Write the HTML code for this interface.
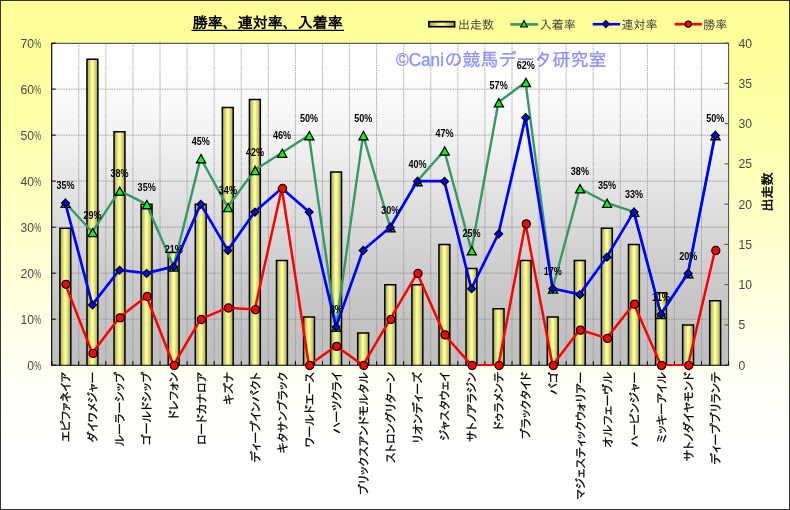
<!DOCTYPE html>
<html lang="ja"><head><meta charset="utf-8"><title>勝率、連対率、入着率</title>
<style>html,body{margin:0;padding:0;background:#fff;overflow:hidden;}svg{display:block;will-change:transform;}text{font-family:"Liberation Sans", "IPAGothic", "Noto Sans CJK JP", sans-serif;}.cl{font-family:"Liberation Sans", "IPAPGothic", "IPAGothic", "Noto Sans CJK JP", sans-serif;}</style>
</head><body>
<svg width="790" height="510" viewBox="0 0 790 510">
<defs>
<linearGradient id="bg" x1="0" y1="0" x2="0" y2="1"><stop offset="0.0000" stop-color="#ffff99"/><stop offset="0.0417" stop-color="#ffff9a"/><stop offset="0.0833" stop-color="#ffff9b"/><stop offset="0.1250" stop-color="#ffff9e"/><stop offset="0.1667" stop-color="#ffffa2"/><stop offset="0.2083" stop-color="#ffffa6"/><stop offset="0.2500" stop-color="#ffffab"/><stop offset="0.2917" stop-color="#ffffb1"/><stop offset="0.3333" stop-color="#ffffb7"/><stop offset="0.3750" stop-color="#ffffbd"/><stop offset="0.4167" stop-color="#ffffc4"/><stop offset="0.4583" stop-color="#ffffcb"/><stop offset="0.5000" stop-color="#ffffd2"/><stop offset="0.5417" stop-color="#ffffd9"/><stop offset="0.5833" stop-color="#ffffdf"/><stop offset="0.6250" stop-color="#ffffe5"/><stop offset="0.6667" stop-color="#ffffeb"/><stop offset="0.7083" stop-color="#fffff0"/><stop offset="0.7500" stop-color="#fffff5"/><stop offset="0.7917" stop-color="#fffff9"/><stop offset="0.8333" stop-color="#fffffc"/><stop offset="0.8750" stop-color="#fffffe"/><stop offset="0.9167" stop-color="#ffffff"/><stop offset="0.9583" stop-color="#ffffff"/><stop offset="1.0000" stop-color="#ffffff"/></linearGradient>
<linearGradient id="pg" x1="0" y1="0" x2="0" y2="1"><stop offset="0.0000" stop-color="#ffffff"/><stop offset="0.0417" stop-color="#ffffff"/><stop offset="0.0833" stop-color="#fefefe"/><stop offset="0.1250" stop-color="#fcfcfc"/><stop offset="0.1667" stop-color="#fafafa"/><stop offset="0.2083" stop-color="#f8f8f8"/><stop offset="0.2500" stop-color="#f5f5f5"/><stop offset="0.2917" stop-color="#f2f2f2"/><stop offset="0.3333" stop-color="#efefef"/><stop offset="0.3750" stop-color="#ebebeb"/><stop offset="0.4167" stop-color="#e7e7e7"/><stop offset="0.4583" stop-color="#e3e3e3"/><stop offset="0.5000" stop-color="#e0e0e0"/><stop offset="0.5417" stop-color="#dcdcdc"/><stop offset="0.5833" stop-color="#d8d8d8"/><stop offset="0.6250" stop-color="#d4d4d4"/><stop offset="0.6667" stop-color="#d0d0d0"/><stop offset="0.7083" stop-color="#cdcdcd"/><stop offset="0.7500" stop-color="#cacaca"/><stop offset="0.7917" stop-color="#c7c7c7"/><stop offset="0.8333" stop-color="#c5c5c5"/><stop offset="0.8750" stop-color="#c3c3c3"/><stop offset="0.9167" stop-color="#c1c1c1"/><stop offset="0.9583" stop-color="#c0c0c0"/><stop offset="1.0000" stop-color="#c0c0c0"/></linearGradient>
<linearGradient id="bar" x1="0" y1="0" x2="1" y2="0"><stop offset="0" stop-color="#9e9e50"/><stop offset="0.44" stop-color="#fcfc97"/><stop offset="0.56" stop-color="#fcfc97"/><stop offset="1" stop-color="#9e9e50"/></linearGradient>
<clipPath id="pc"><rect x="51.7" y="43.1" width="676.9" height="323.0"/></clipPath>
</defs>
<rect x="0" y="0" width="790" height="510" fill="url(#bg)"/>
<rect x="0.5" y="0.5" width="789" height="509" fill="none" stroke="#333" stroke-width="1"/>
<rect x="51.7" y="43.1" width="676.9" height="322.1" fill="url(#pg)"/>
<text y="65.6" font-size="18" fill="#9090ff" stroke="#9090ff" stroke-width="0.3"><tspan x="396" textLength="48" lengthAdjust="spacingAndGlyphs">©Cani</tspan><tspan x="444.5" textLength="162">の競馬データ研究室</tspan></text>
<path d="M51.7 319.19H728.6M51.7 273.17H728.6M51.7 227.16H728.6M51.7 181.14H728.6M51.7 135.13H728.6M51.7 89.11H728.6M78.78 43.1V365.2M105.85 43.1V365.2M132.93 43.1V365.2M160.00 43.1V365.2M187.08 43.1V365.2M214.16 43.1V365.2M241.23 43.1V365.2M268.31 43.1V365.2M295.38 43.1V365.2M322.46 43.1V365.2M349.54 43.1V365.2M376.61 43.1V365.2M403.69 43.1V365.2M430.76 43.1V365.2M457.84 43.1V365.2M484.92 43.1V365.2M511.99 43.1V365.2M539.07 43.1V365.2M566.14 43.1V365.2M593.22 43.1V365.2M620.30 43.1V365.2M647.37 43.1V365.2M674.45 43.1V365.2M701.52 43.1V365.2" fill="none" stroke="#8a8a8a" stroke-width="1" stroke-dasharray="1.5 0.9" stroke-opacity="0.75"/>
<path d="M51.7 43.4H729.1" fill="none" stroke="#5c5c5c" stroke-width="1.1"/>
<path d="M59.89 365.2V228.31h10.9V365.2" fill="url(#bar)" stroke="#000" stroke-width="1.5"/>
<path d="M86.96 365.2V59.20h10.9V365.2" fill="url(#bar)" stroke="#000" stroke-width="1.5"/>
<path d="M114.04 365.2V131.68h10.9V365.2" fill="url(#bar)" stroke="#000" stroke-width="1.5"/>
<path d="M141.12 365.2V204.15h10.9V365.2" fill="url(#bar)" stroke="#000" stroke-width="1.5"/>
<path d="M168.19 365.2V252.47h10.9V365.2" fill="url(#bar)" stroke="#000" stroke-width="1.5"/>
<path d="M195.27 365.2V204.15h10.9V365.2" fill="url(#bar)" stroke="#000" stroke-width="1.5"/>
<path d="M222.34 365.2V107.52h10.9V365.2" fill="url(#bar)" stroke="#000" stroke-width="1.5"/>
<path d="M249.42 365.2V99.47h10.9V365.2" fill="url(#bar)" stroke="#000" stroke-width="1.5"/>
<path d="M276.50 365.2V260.52h10.9V365.2" fill="url(#bar)" stroke="#000" stroke-width="1.5"/>
<path d="M303.57 365.2V316.88h10.9V365.2" fill="url(#bar)" stroke="#000" stroke-width="1.5"/>
<path d="M330.65 365.2V171.94h10.9V365.2" fill="url(#bar)" stroke="#000" stroke-width="1.5"/>
<path d="M357.72 365.2V332.99h10.9V365.2" fill="url(#bar)" stroke="#000" stroke-width="1.5"/>
<path d="M384.80 365.2V284.68h10.9V365.2" fill="url(#bar)" stroke="#000" stroke-width="1.5"/>
<path d="M411.88 365.2V284.68h10.9V365.2" fill="url(#bar)" stroke="#000" stroke-width="1.5"/>
<path d="M438.95 365.2V244.41h10.9V365.2" fill="url(#bar)" stroke="#000" stroke-width="1.5"/>
<path d="M466.03 365.2V268.57h10.9V365.2" fill="url(#bar)" stroke="#000" stroke-width="1.5"/>
<path d="M493.10 365.2V308.83h10.9V365.2" fill="url(#bar)" stroke="#000" stroke-width="1.5"/>
<path d="M520.18 365.2V260.52h10.9V365.2" fill="url(#bar)" stroke="#000" stroke-width="1.5"/>
<path d="M547.26 365.2V316.88h10.9V365.2" fill="url(#bar)" stroke="#000" stroke-width="1.5"/>
<path d="M574.33 365.2V260.52h10.9V365.2" fill="url(#bar)" stroke="#000" stroke-width="1.5"/>
<path d="M601.41 365.2V228.31h10.9V365.2" fill="url(#bar)" stroke="#000" stroke-width="1.5"/>
<path d="M628.48 365.2V244.41h10.9V365.2" fill="url(#bar)" stroke="#000" stroke-width="1.5"/>
<path d="M655.56 365.2V292.73h10.9V365.2" fill="url(#bar)" stroke="#000" stroke-width="1.5"/>
<path d="M682.64 365.2V324.94h10.9V365.2" fill="url(#bar)" stroke="#000" stroke-width="1.5"/>
<path d="M709.71 365.2V300.78h10.9V365.2" fill="url(#bar)" stroke="#000" stroke-width="1.5"/>
<path d="M728.6 43.1V365.2M728.6 365.20h-4M728.6 324.94h-4M728.6 284.68h-4M728.6 244.41h-4M728.6 204.15h-4M728.6 163.89h-4M728.6 123.63h-4M728.6 83.36h-4M728.6 43.10h-4" fill="none" stroke="#4a4a4a" stroke-width="1"/>
<path d="M51.7 365.20h4M51.7 319.19h4M51.7 273.17h4M51.7 227.16h4M51.7 181.14h4M51.7 135.13h4M51.7 89.11h4M51.7 43.10h4M51.70 365.2v-4M78.78 365.2v-4M105.85 365.2v-4M132.93 365.2v-4M160.00 365.2v-4M187.08 365.2v-4M214.16 365.2v-4M241.23 365.2v-4M268.31 365.2v-4M295.38 365.2v-4M322.46 365.2v-4M349.54 365.2v-4M376.61 365.2v-4M403.69 365.2v-4M430.76 365.2v-4M457.84 365.2v-4M484.92 365.2v-4M511.99 365.2v-4M539.07 365.2v-4M566.14 365.2v-4M593.22 365.2v-4M620.30 365.2v-4M647.37 365.2v-4M674.45 365.2v-4M701.52 365.2v-4M728.60 365.2v-4" fill="none" stroke="#000" stroke-width="1"/>
<path d="M51.7 43.1V365.2H729.1" fill="none" stroke="#000" stroke-width="1.15"/>
<polyline points="65.24,202.80 92.31,232.00 119.39,190.66 146.47,204.15 173.54,266.60 200.62,158.14 227.69,207.03 254.77,169.99 281.85,152.83 308.92,135.13 336.00,326.85 363.07,135.13 390.15,227.16 417.23,181.14 444.30,150.47 471.38,250.16 498.45,102.26 525.53,82.04 552.61,288.51 579.68,188.22 606.76,202.80 633.83,211.82 660.91,314.07 687.99,273.17 715.06,135.13" fill="none" stroke="#339966" stroke-width="2.40" stroke-linejoin="round" stroke-linecap="round" clip-path="url(#pc)"/>
<path d="M65.64 199.20l4.55 8.2h-9.1z" fill="#00ff00" stroke="#000" stroke-width="1.3"/>
<path d="M92.71 228.40l4.55 8.2h-9.1z" fill="#00ff00" stroke="#000" stroke-width="1.3"/>
<path d="M119.79 187.06l4.55 8.2h-9.1z" fill="#00ff00" stroke="#000" stroke-width="1.3"/>
<path d="M146.87 200.55l4.55 8.2h-9.1z" fill="#00ff00" stroke="#000" stroke-width="1.3"/>
<path d="M173.94 263.00l4.55 8.2h-9.1z" fill="#00ff00" stroke="#000" stroke-width="1.3"/>
<path d="M201.02 154.54l4.55 8.2h-9.1z" fill="#00ff00" stroke="#000" stroke-width="1.3"/>
<path d="M228.09 203.43l4.55 8.2h-9.1z" fill="#00ff00" stroke="#000" stroke-width="1.3"/>
<path d="M255.17 166.39l4.55 8.2h-9.1z" fill="#00ff00" stroke="#000" stroke-width="1.3"/>
<path d="M282.25 149.23l4.55 8.2h-9.1z" fill="#00ff00" stroke="#000" stroke-width="1.3"/>
<path d="M309.32 131.53l4.55 8.2h-9.1z" fill="#00ff00" stroke="#000" stroke-width="1.3"/>
<path d="M336.40 323.25l4.55 8.2h-9.1z" fill="#00ff00" stroke="#000" stroke-width="1.3"/>
<path d="M363.47 131.53l4.55 8.2h-9.1z" fill="#00ff00" stroke="#000" stroke-width="1.3"/>
<path d="M390.55 223.56l4.55 8.2h-9.1z" fill="#00ff00" stroke="#000" stroke-width="1.3"/>
<path d="M417.63 177.54l4.55 8.2h-9.1z" fill="#00ff00" stroke="#000" stroke-width="1.3"/>
<path d="M444.70 146.87l4.55 8.2h-9.1z" fill="#00ff00" stroke="#000" stroke-width="1.3"/>
<path d="M471.78 246.56l4.55 8.2h-9.1z" fill="#00ff00" stroke="#000" stroke-width="1.3"/>
<path d="M498.85 98.66l4.55 8.2h-9.1z" fill="#00ff00" stroke="#000" stroke-width="1.3"/>
<path d="M525.93 78.44l4.55 8.2h-9.1z" fill="#00ff00" stroke="#000" stroke-width="1.3"/>
<path d="M553.01 284.91l4.55 8.2h-9.1z" fill="#00ff00" stroke="#000" stroke-width="1.3"/>
<path d="M580.08 184.62l4.55 8.2h-9.1z" fill="#00ff00" stroke="#000" stroke-width="1.3"/>
<path d="M607.16 199.20l4.55 8.2h-9.1z" fill="#00ff00" stroke="#000" stroke-width="1.3"/>
<path d="M634.23 208.22l4.55 8.2h-9.1z" fill="#00ff00" stroke="#000" stroke-width="1.3"/>
<path d="M661.31 310.47l4.55 8.2h-9.1z" fill="#00ff00" stroke="#000" stroke-width="1.3"/>
<path d="M688.39 269.57l4.55 8.2h-9.1z" fill="#00ff00" stroke="#000" stroke-width="1.3"/>
<path d="M715.46 131.53l4.55 8.2h-9.1z" fill="#00ff00" stroke="#000" stroke-width="1.3"/>
<polyline points="65.24,202.80 92.31,304.65 119.39,270.00 146.47,273.17 173.54,266.60 200.62,204.15 227.69,250.16 254.77,211.82 281.85,188.22 308.92,211.82 336.00,326.85 363.07,250.16 390.15,227.16 417.23,181.14 444.30,181.14 471.38,288.51 498.45,233.73 525.53,117.43 552.61,288.51 579.68,294.41 606.76,256.93 633.83,211.82 660.91,314.07 687.99,273.17 715.06,135.13" fill="none" stroke="#0000ff" stroke-width="2.70" stroke-linejoin="round" stroke-linecap="round" clip-path="url(#pc)"/>
<path d="M65.44 199.10l3.95 3.95l-3.95 3.95l-3.95 -3.95z" fill="#0000ff" stroke="#000" stroke-width="1.25"/>
<path d="M92.51 300.95l3.95 3.95l-3.95 3.95l-3.95 -3.95z" fill="#0000ff" stroke="#000" stroke-width="1.25"/>
<path d="M119.59 266.30l3.95 3.95l-3.95 3.95l-3.95 -3.95z" fill="#0000ff" stroke="#000" stroke-width="1.25"/>
<path d="M146.67 269.47l3.95 3.95l-3.95 3.95l-3.95 -3.95z" fill="#0000ff" stroke="#000" stroke-width="1.25"/>
<path d="M173.74 262.90l3.95 3.95l-3.95 3.95l-3.95 -3.95z" fill="#0000ff" stroke="#000" stroke-width="1.25"/>
<path d="M200.82 200.45l3.95 3.95l-3.95 3.95l-3.95 -3.95z" fill="#0000ff" stroke="#000" stroke-width="1.25"/>
<path d="M227.89 246.46l3.95 3.95l-3.95 3.95l-3.95 -3.95z" fill="#0000ff" stroke="#000" stroke-width="1.25"/>
<path d="M254.97 208.12l3.95 3.95l-3.95 3.95l-3.95 -3.95z" fill="#0000ff" stroke="#000" stroke-width="1.25"/>
<path d="M282.05 184.52l3.95 3.95l-3.95 3.95l-3.95 -3.95z" fill="#0000ff" stroke="#000" stroke-width="1.25"/>
<path d="M309.12 208.12l3.95 3.95l-3.95 3.95l-3.95 -3.95z" fill="#0000ff" stroke="#000" stroke-width="1.25"/>
<path d="M336.20 323.15l3.95 3.95l-3.95 3.95l-3.95 -3.95z" fill="#0000ff" stroke="#000" stroke-width="1.25"/>
<path d="M363.27 246.46l3.95 3.95l-3.95 3.95l-3.95 -3.95z" fill="#0000ff" stroke="#000" stroke-width="1.25"/>
<path d="M390.35 223.46l3.95 3.95l-3.95 3.95l-3.95 -3.95z" fill="#0000ff" stroke="#000" stroke-width="1.25"/>
<path d="M417.43 177.44l3.95 3.95l-3.95 3.95l-3.95 -3.95z" fill="#0000ff" stroke="#000" stroke-width="1.25"/>
<path d="M444.50 177.44l3.95 3.95l-3.95 3.95l-3.95 -3.95z" fill="#0000ff" stroke="#000" stroke-width="1.25"/>
<path d="M471.58 284.81l3.95 3.95l-3.95 3.95l-3.95 -3.95z" fill="#0000ff" stroke="#000" stroke-width="1.25"/>
<path d="M498.65 230.03l3.95 3.95l-3.95 3.95l-3.95 -3.95z" fill="#0000ff" stroke="#000" stroke-width="1.25"/>
<path d="M525.73 113.73l3.95 3.95l-3.95 3.95l-3.95 -3.95z" fill="#0000ff" stroke="#000" stroke-width="1.25"/>
<path d="M552.81 284.81l3.95 3.95l-3.95 3.95l-3.95 -3.95z" fill="#0000ff" stroke="#000" stroke-width="1.25"/>
<path d="M579.88 290.71l3.95 3.95l-3.95 3.95l-3.95 -3.95z" fill="#0000ff" stroke="#000" stroke-width="1.25"/>
<path d="M606.96 253.23l3.95 3.95l-3.95 3.95l-3.95 -3.95z" fill="#0000ff" stroke="#000" stroke-width="1.25"/>
<path d="M634.03 208.12l3.95 3.95l-3.95 3.95l-3.95 -3.95z" fill="#0000ff" stroke="#000" stroke-width="1.25"/>
<path d="M661.11 310.37l3.95 3.95l-3.95 3.95l-3.95 -3.95z" fill="#0000ff" stroke="#000" stroke-width="1.25"/>
<path d="M688.19 269.47l3.95 3.95l-3.95 3.95l-3.95 -3.95z" fill="#0000ff" stroke="#000" stroke-width="1.25"/>
<path d="M715.26 131.43l3.95 3.95l-3.95 3.95l-3.95 -3.95z" fill="#0000ff" stroke="#000" stroke-width="1.25"/>
<polyline points="65.24,284.00 92.31,353.09 119.39,317.60 146.47,296.18 173.54,365.20 200.62,319.19 227.69,307.68 254.77,309.43 281.85,188.22 308.92,365.20 336.00,346.03 363.07,365.20 390.15,319.19 417.23,273.17 444.30,334.52 471.38,365.20 498.45,365.20 525.53,223.62 552.61,365.20 579.68,329.80 606.76,338.13 633.83,303.85 660.91,365.20 687.99,365.20 715.06,250.16" fill="none" stroke="#ff0000" stroke-width="2.50" stroke-linejoin="round" stroke-linecap="round" clip-path="url(#pc)"/>
<circle cx="65.99" cy="284.30" r="4.05" fill="#ff0000" stroke="#000" stroke-width="1.25"/>
<circle cx="93.06" cy="353.39" r="4.05" fill="#ff0000" stroke="#000" stroke-width="1.25"/>
<circle cx="120.14" cy="317.90" r="4.05" fill="#ff0000" stroke="#000" stroke-width="1.25"/>
<circle cx="147.22" cy="296.48" r="4.05" fill="#ff0000" stroke="#000" stroke-width="1.25"/>
<circle cx="174.29" cy="365.50" r="4.05" fill="#ff0000" stroke="#000" stroke-width="1.25"/>
<circle cx="201.37" cy="319.49" r="4.05" fill="#ff0000" stroke="#000" stroke-width="1.25"/>
<circle cx="228.44" cy="307.98" r="4.05" fill="#ff0000" stroke="#000" stroke-width="1.25"/>
<circle cx="255.52" cy="309.73" r="4.05" fill="#ff0000" stroke="#000" stroke-width="1.25"/>
<circle cx="282.60" cy="188.52" r="4.05" fill="#ff0000" stroke="#000" stroke-width="1.25"/>
<circle cx="309.67" cy="365.50" r="4.05" fill="#ff0000" stroke="#000" stroke-width="1.25"/>
<circle cx="336.75" cy="346.33" r="4.05" fill="#ff0000" stroke="#000" stroke-width="1.25"/>
<circle cx="363.82" cy="365.50" r="4.05" fill="#ff0000" stroke="#000" stroke-width="1.25"/>
<circle cx="390.90" cy="319.49" r="4.05" fill="#ff0000" stroke="#000" stroke-width="1.25"/>
<circle cx="417.98" cy="273.47" r="4.05" fill="#ff0000" stroke="#000" stroke-width="1.25"/>
<circle cx="445.05" cy="334.82" r="4.05" fill="#ff0000" stroke="#000" stroke-width="1.25"/>
<circle cx="472.13" cy="365.50" r="4.05" fill="#ff0000" stroke="#000" stroke-width="1.25"/>
<circle cx="499.20" cy="365.50" r="4.05" fill="#ff0000" stroke="#000" stroke-width="1.25"/>
<circle cx="526.28" cy="223.92" r="4.05" fill="#ff0000" stroke="#000" stroke-width="1.25"/>
<circle cx="553.36" cy="365.50" r="4.05" fill="#ff0000" stroke="#000" stroke-width="1.25"/>
<circle cx="580.43" cy="330.10" r="4.05" fill="#ff0000" stroke="#000" stroke-width="1.25"/>
<circle cx="607.51" cy="338.43" r="4.05" fill="#ff0000" stroke="#000" stroke-width="1.25"/>
<circle cx="634.58" cy="304.15" r="4.05" fill="#ff0000" stroke="#000" stroke-width="1.25"/>
<circle cx="661.66" cy="365.50" r="4.05" fill="#ff0000" stroke="#000" stroke-width="1.25"/>
<circle cx="688.74" cy="365.50" r="4.05" fill="#ff0000" stroke="#000" stroke-width="1.25"/>
<circle cx="715.81" cy="250.46" r="4.05" fill="#ff0000" stroke="#000" stroke-width="1.25"/>
<text x="65.44" y="189.30" font-size="10.1" font-weight="bold" text-anchor="middle" textLength="18.1" lengthAdjust="spacingAndGlyphs" fill="#000">35%</text>
<text x="92.51" y="218.50" font-size="10.1" font-weight="bold" text-anchor="middle" textLength="18.1" lengthAdjust="spacingAndGlyphs" fill="#000">29%</text>
<text x="119.59" y="177.16" font-size="10.1" font-weight="bold" text-anchor="middle" textLength="18.1" lengthAdjust="spacingAndGlyphs" fill="#000">38%</text>
<text x="146.67" y="190.65" font-size="10.1" font-weight="bold" text-anchor="middle" textLength="18.1" lengthAdjust="spacingAndGlyphs" fill="#000">35%</text>
<text x="173.74" y="253.10" font-size="10.1" font-weight="bold" text-anchor="middle" textLength="18.1" lengthAdjust="spacingAndGlyphs" fill="#000">21%</text>
<text x="200.82" y="144.64" font-size="10.1" font-weight="bold" text-anchor="middle" textLength="18.1" lengthAdjust="spacingAndGlyphs" fill="#000">45%</text>
<text x="227.89" y="193.53" font-size="10.1" font-weight="bold" text-anchor="middle" textLength="18.1" lengthAdjust="spacingAndGlyphs" fill="#000">34%</text>
<text x="254.97" y="156.49" font-size="10.1" font-weight="bold" text-anchor="middle" textLength="18.1" lengthAdjust="spacingAndGlyphs" fill="#000">42%</text>
<text x="282.05" y="139.33" font-size="10.1" font-weight="bold" text-anchor="middle" textLength="18.1" lengthAdjust="spacingAndGlyphs" fill="#000">46%</text>
<text x="309.12" y="121.63" font-size="10.1" font-weight="bold" text-anchor="middle" textLength="18.1" lengthAdjust="spacingAndGlyphs" fill="#000">50%</text>
<text x="336.20" y="313.35" font-size="10.1" font-weight="bold" text-anchor="middle" textLength="12.1" lengthAdjust="spacingAndGlyphs" fill="#000">8%</text>
<text x="363.27" y="121.63" font-size="10.1" font-weight="bold" text-anchor="middle" textLength="18.1" lengthAdjust="spacingAndGlyphs" fill="#000">50%</text>
<text x="390.35" y="213.66" font-size="10.1" font-weight="bold" text-anchor="middle" textLength="18.1" lengthAdjust="spacingAndGlyphs" fill="#000">30%</text>
<text x="417.43" y="167.64" font-size="10.1" font-weight="bold" text-anchor="middle" textLength="18.1" lengthAdjust="spacingAndGlyphs" fill="#000">40%</text>
<text x="444.50" y="136.97" font-size="10.1" font-weight="bold" text-anchor="middle" textLength="18.1" lengthAdjust="spacingAndGlyphs" fill="#000">47%</text>
<text x="471.58" y="236.66" font-size="10.1" font-weight="bold" text-anchor="middle" textLength="18.1" lengthAdjust="spacingAndGlyphs" fill="#000">25%</text>
<text x="498.65" y="88.76" font-size="10.1" font-weight="bold" text-anchor="middle" textLength="18.1" lengthAdjust="spacingAndGlyphs" fill="#000">57%</text>
<text x="525.73" y="68.54" font-size="10.1" font-weight="bold" text-anchor="middle" textLength="18.1" lengthAdjust="spacingAndGlyphs" fill="#000">62%</text>
<text x="552.81" y="275.01" font-size="10.1" font-weight="bold" text-anchor="middle" textLength="18.1" lengthAdjust="spacingAndGlyphs" fill="#000">17%</text>
<text x="579.88" y="174.72" font-size="10.1" font-weight="bold" text-anchor="middle" textLength="18.1" lengthAdjust="spacingAndGlyphs" fill="#000">38%</text>
<text x="606.96" y="189.30" font-size="10.1" font-weight="bold" text-anchor="middle" textLength="18.1" lengthAdjust="spacingAndGlyphs" fill="#000">35%</text>
<text x="634.03" y="198.32" font-size="10.1" font-weight="bold" text-anchor="middle" textLength="18.1" lengthAdjust="spacingAndGlyphs" fill="#000">33%</text>
<text x="661.11" y="300.57" font-size="10.1" font-weight="bold" text-anchor="middle" textLength="18.1" lengthAdjust="spacingAndGlyphs" fill="#000">11%</text>
<text x="688.19" y="259.67" font-size="10.1" font-weight="bold" text-anchor="middle" textLength="18.1" lengthAdjust="spacingAndGlyphs" fill="#000">20%</text>
<text x="715.26" y="121.63" font-size="10.1" font-weight="bold" text-anchor="middle" textLength="18.1" lengthAdjust="spacingAndGlyphs" fill="#000">50%</text>
<text x="34" y="369.70" font-size="12.2" text-anchor="end" fill="#484848">0</text><text x="34.2" y="369.70" font-size="12.2" textLength="6.9" lengthAdjust="spacingAndGlyphs" fill="#484848">%</text>
<text x="34" y="323.69" font-size="12.2" text-anchor="end" fill="#484848">10</text><text x="34.2" y="323.69" font-size="12.2" textLength="6.9" lengthAdjust="spacingAndGlyphs" fill="#484848">%</text>
<text x="34" y="277.67" font-size="12.2" text-anchor="end" fill="#484848">20</text><text x="34.2" y="277.67" font-size="12.2" textLength="6.9" lengthAdjust="spacingAndGlyphs" fill="#484848">%</text>
<text x="34" y="231.66" font-size="12.2" text-anchor="end" fill="#484848">30</text><text x="34.2" y="231.66" font-size="12.2" textLength="6.9" lengthAdjust="spacingAndGlyphs" fill="#484848">%</text>
<text x="34" y="185.64" font-size="12.2" text-anchor="end" fill="#484848">40</text><text x="34.2" y="185.64" font-size="12.2" textLength="6.9" lengthAdjust="spacingAndGlyphs" fill="#484848">%</text>
<text x="34" y="139.63" font-size="12.2" text-anchor="end" fill="#484848">50</text><text x="34.2" y="139.63" font-size="12.2" textLength="6.9" lengthAdjust="spacingAndGlyphs" fill="#484848">%</text>
<text x="34" y="93.61" font-size="12.2" text-anchor="end" fill="#484848">60</text><text x="34.2" y="93.61" font-size="12.2" textLength="6.9" lengthAdjust="spacingAndGlyphs" fill="#484848">%</text>
<text x="34" y="47.60" font-size="12.2" text-anchor="end" fill="#484848">70</text><text x="34.2" y="47.60" font-size="12.2" textLength="6.9" lengthAdjust="spacingAndGlyphs" fill="#484848">%</text>
<text x="738.6" y="369.70" font-size="12.2" fill="#484848">0</text>
<text x="738.6" y="329.44" font-size="12.2" fill="#484848">5</text>
<text x="738.6" y="289.18" font-size="12.2" fill="#484848">10</text>
<text x="738.6" y="248.91" font-size="12.2" fill="#484848">15</text>
<text x="738.6" y="208.65" font-size="12.2" fill="#484848">20</text>
<text x="738.6" y="168.39" font-size="12.2" fill="#484848">25</text>
<text x="738.6" y="128.13" font-size="12.2" fill="#484848">30</text>
<text x="738.6" y="87.86" font-size="12.2" fill="#484848">35</text>
<text x="738.6" y="47.60" font-size="12.2" fill="#484848">40</text>
<text transform="translate(70.14,371.9) rotate(-90)" font-size="12" text-anchor="end" textLength="70.2" fill="#000" stroke="#000" stroke-width="0.3" class="cl">エピファネイア</text>
<text transform="translate(97.21,371.9) rotate(-90)" font-size="12" text-anchor="end" textLength="70.6" fill="#000" stroke="#000" stroke-width="0.3" class="cl">ダイワメジャー</text>
<text transform="translate(124.29,371.9) rotate(-90)" font-size="12" text-anchor="end" textLength="74.7" fill="#000" stroke="#000" stroke-width="0.3" class="cl">ルーラーシップ</text>
<text transform="translate(151.37,371.9) rotate(-90)" font-size="12" text-anchor="end" textLength="73.3" fill="#000" stroke="#000" stroke-width="0.3" class="cl">ゴールドシップ</text>
<text transform="translate(178.44,371.9) rotate(-90)" font-size="12" text-anchor="end" textLength="47.3" fill="#000" stroke="#000" stroke-width="0.3" class="cl">ドレフォン</text>
<text transform="translate(205.52,371.9) rotate(-90)" font-size="12" text-anchor="end" textLength="73.2" fill="#000" stroke="#000" stroke-width="0.3" class="cl">ロードカナロア</text>
<text transform="translate(232.59,371.9) rotate(-90)" font-size="12" text-anchor="end" textLength="32.8" fill="#000" stroke="#000" stroke-width="0.3" class="cl">キズナ</text>
<text transform="translate(259.67,371.9) rotate(-90)" font-size="12" text-anchor="end" textLength="90.6" fill="#000" stroke="#000" stroke-width="0.3" class="cl">ディープインパクト</text>
<text transform="translate(286.75,371.9) rotate(-90)" font-size="12" text-anchor="end" textLength="81.4" fill="#000" stroke="#000" stroke-width="0.3" class="cl">キタサンブラック</text>
<text transform="translate(313.82,371.9) rotate(-90)" font-size="12" text-anchor="end" textLength="75.4" fill="#000" stroke="#000" stroke-width="0.3" class="cl">ワールドエース</text>
<text transform="translate(340.90,371.9) rotate(-90)" font-size="12" text-anchor="end" textLength="61.9" fill="#000" stroke="#000" stroke-width="0.3" class="cl">ハーツクライ</text>
<text transform="translate(367.97,371.9) rotate(-90)" font-size="12" text-anchor="end" textLength="122.8" fill="#000" stroke="#000" stroke-width="0.3" class="cl">ブリックスアンドモルタル</text>
<text transform="translate(395.05,371.9) rotate(-90)" font-size="12" text-anchor="end" textLength="91.4" fill="#000" stroke="#000" stroke-width="0.3" class="cl">ストロングリターン</text>
<text transform="translate(422.13,371.9) rotate(-90)" font-size="12" text-anchor="end" textLength="71.6" fill="#000" stroke="#000" stroke-width="0.3" class="cl">リオンディーズ</text>
<text transform="translate(449.20,371.9) rotate(-90)" font-size="12" text-anchor="end" textLength="68.8" fill="#000" stroke="#000" stroke-width="0.3" class="cl">ジャスタウェイ</text>
<text transform="translate(476.28,371.9) rotate(-90)" font-size="12" text-anchor="end" textLength="70.1" fill="#000" stroke="#000" stroke-width="0.3" class="cl">サトノアラジン</text>
<text transform="translate(503.35,371.9) rotate(-90)" font-size="12" text-anchor="end" textLength="58.3" fill="#000" stroke="#000" stroke-width="0.3" class="cl">ドゥラメンテ</text>
<text transform="translate(530.43,371.9) rotate(-90)" font-size="12" text-anchor="end" textLength="67.0" fill="#000" stroke="#000" stroke-width="0.3" class="cl">ブラックタイド</text>
<text transform="translate(557.51,371.9) rotate(-90)" font-size="12" text-anchor="end" textLength="22.9" fill="#000" stroke="#000" stroke-width="0.3" class="cl">バゴ</text>
<text transform="translate(584.58,371.9) rotate(-90)" font-size="12" text-anchor="end" textLength="127.8" fill="#000" stroke="#000" stroke-width="0.3" class="cl">マジェスティックウォリアー</text>
<text transform="translate(611.66,371.9) rotate(-90)" font-size="12" text-anchor="end" textLength="75.5" fill="#000" stroke="#000" stroke-width="0.3" class="cl">オルフェーヴル</text>
<text transform="translate(638.73,371.9) rotate(-90)" font-size="12" text-anchor="end" textLength="75.0" fill="#000" stroke="#000" stroke-width="0.3" class="cl">ハービンジャー</text>
<text transform="translate(665.81,371.9) rotate(-90)" font-size="12" text-anchor="end" textLength="71.4" fill="#000" stroke="#000" stroke-width="0.3" class="cl">ミッキーアイル</text>
<text transform="translate(692.89,371.9) rotate(-90)" font-size="12" text-anchor="end" textLength="89.4" fill="#000" stroke="#000" stroke-width="0.3" class="cl">サトノダイヤモンド</text>
<text transform="translate(719.96,371.9) rotate(-90)" font-size="12" text-anchor="end" textLength="92.5" fill="#000" stroke="#000" stroke-width="0.3" class="cl">ディープブリランテ</text>
<text transform="translate(772,192) rotate(-90)" font-size="13" text-anchor="middle" fill="#000" stroke="#000" stroke-width="0.45">出走数</text>
<text x="267.7" y="28" font-size="15" font-weight="bold" text-anchor="middle" fill="#000">勝率、連対率、入着率</text>
<path d="M191.5 30.3H344" stroke="#000" stroke-width="1.2"/>
<rect x="428.9" y="21.7" width="25.7" height="5" fill="url(#bar)" stroke="#000" stroke-width="1.7"/>
<text x="458" y="29" font-size="12" fill="#3c3c3c">出走数</text>
<path d="M510.3 24.4H538.2" stroke="#339966" stroke-width="2.6"/>
<path d="M524 20.5l3.3 6.5h-6.6z" fill="#00ff00" stroke="#000" stroke-width="1.2"/>
<text x="539.8" y="29" font-size="12" fill="#3c3c3c">入着率</text>
<path d="M592.7 24.2H620.2" stroke="#0000ff" stroke-width="2.6"/>
<path d="M605.9 20.6l3.4 3.5l-3.4 3.5l-3.4 -3.5z" fill="#0000ff" stroke="#000" stroke-width="1.2"/>
<text x="621.6" y="29" font-size="12" fill="#3c3c3c">連対率</text>
<path d="M674.5 24.2H702" stroke="#ff0000" stroke-width="2.6"/>
<circle cx="688.3" cy="24.1" r="3.1" fill="#ff0000" stroke="#000" stroke-width="1.2"/>
<text x="703.2" y="29" font-size="12" fill="#3c3c3c">勝率</text>
</svg>
</body></html>
